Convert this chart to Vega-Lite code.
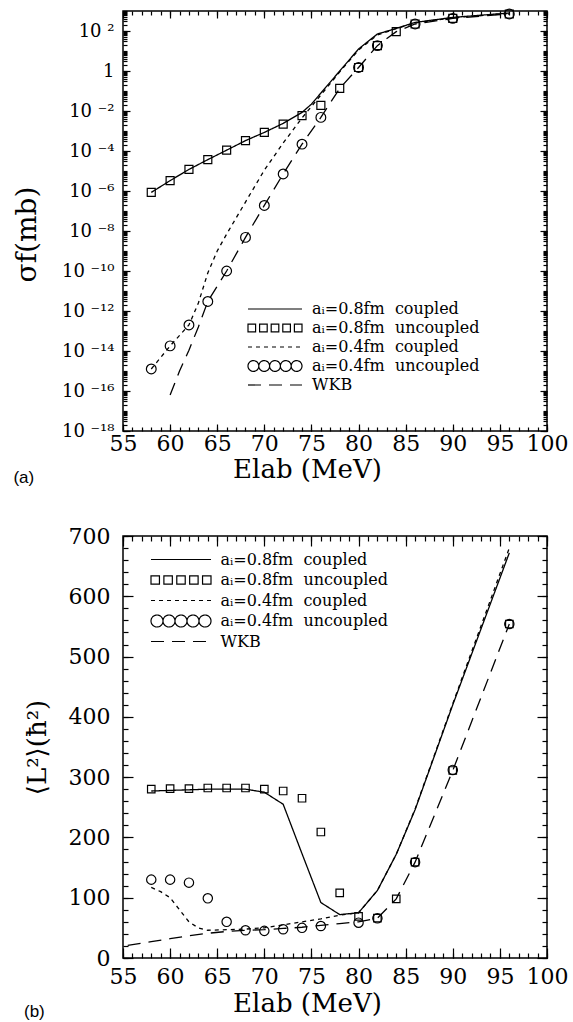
{
  "$schema": "https://vega.github.io/schema/vega-lite/v6.json",
  "padding": {"top": 5, "left": 12, "right": 5, "bottom": 0},
  "background": "white",
  "spacing": 37,
  "config": {
    "view": {"stroke": "black", "strokeWidth": 1.5},
    "axis": {"domain": false, "grid": false, "tickColor": "black", "tickWidth": 1.2, "labelColor": "black", "labelFont": "DejaVu Serif", "titleFont": "DejaVu Serif", "titleFontWeight": "normal", "titleColor": "black", "labelFlush": false, "labelOverlap": false},
    "legend": {"labelFont": "DejaVu Serif", "labelColor": "black", "padding": 0, "labelLimit": 400, "symbolStrokeColor": "black"},
    "title": {"font": "Liberation Sans", "fontSize": 17, "fontWeight": "normal", "color": "black", "orient": "bottom", "anchor": "start", "frame": "bounds"}
  },
  "resolve": {"scale": {"strokeDash": "independent"}, "legend": {"strokeDash": "independent"}},
  "datasets": {
    "t_lines": [
      {"E":58,"v":8.5e-7,"s":"c08"},{"E":60,"v":3.3e-6,"s":"c08"},{"E":62,"v":1.2e-5,"s":"c08"},{"E":64,"v":3.7e-5,"s":"c08"},{"E":66,"v":1.1e-4,"s":"c08"},{"E":68,"v":3.3e-4,"s":"c08"},{"E":70,"v":8.5e-4,"s":"c08"},{"E":72,"v":2.4e-3,"s":"c08"},{"E":74,"v":8.5e-3,"s":"c08"},{"E":75,"v":2.2e-2,"s":"c08"},{"E":76,"v":7.9e-2,"s":"c08"},{"E":77,"v":0.28,"s":"c08"},{"E":78,"v":1.0,"s":"c08"},{"E":80,"v":12.6,"s":"c08"},{"E":82,"v":70.8,"s":"c08"},{"E":84,"v":135,"s":"c08"},{"E":86,"v":269,"s":"c08"},{"E":90,"v":479,"s":"c08"},{"E":96,"v":794,"s":"c08"},
      {"E":58,"v":1.26e-15,"s":"c04"},{"E":60,"v":1.8e-14,"s":"c04"},{"E":62,"v":2.0e-13,"s":"c04"},{"E":63,"v":2.5e-12,"s":"c04"},{"E":64,"v":8e-11,"s":"c04"},{"E":65,"v":1e-9,"s":"c04"},{"E":66,"v":7e-9,"s":"c04"},{"E":68,"v":2.8e-7,"s":"c04"},{"E":70,"v":1.1e-5,"s":"c04"},{"E":72,"v":2.5e-4,"s":"c04"},{"E":74,"v":4.5e-3,"s":"c04"},{"E":76,"v":6.3e-2,"s":"c04"},{"E":78,"v":0.9,"s":"c04"},{"E":80,"v":11.2,"s":"c04"},{"E":82,"v":63,"s":"c04"},{"E":84,"v":132,"s":"c04"},{"E":86,"v":251,"s":"c04"},{"E":90,"v":457,"s":"c04"},{"E":96,"v":759,"s":"c04"}
    ],
    "t_wkb": [
      {"E":60,"v":6.3e-17,"s":"wkb"},{"E":61,"v":1e-15,"s":"wkb"},{"E":62,"v":1.1e-14,"s":"wkb"},{"E":63,"v":1.6e-13,"s":"wkb"},{"E":64,"v":3e-12,"s":"wkb"},{"E":66,"v":1e-10,"s":"wkb"},{"E":68,"v":4.8e-9,"s":"wkb"},{"E":70,"v":1.9e-7,"s":"wkb"},{"E":72,"v":7.1e-6,"s":"wkb"},{"E":74,"v":2.2e-4,"s":"wkb"},{"E":76,"v":4.8e-3,"s":"wkb"},{"E":78,"v":0.135,"s":"wkb"},{"E":80,"v":1.5,"s":"wkb"},{"E":82,"v":18.6,"s":"wkb"},{"E":84,"v":93,"s":"wkb"},{"E":86,"v":224,"s":"wkb"},{"E":90,"v":427,"s":"wkb"},{"E":96,"v":708,"s":"wkb"}
    ],
    "t_sq": [
      {"E":58,"v":8.5e-7},{"E":60,"v":3.3e-6},{"E":62,"v":1.2e-5},{"E":64,"v":3.7e-5},{"E":66,"v":1.1e-4},{"E":68,"v":3.3e-4},{"E":70,"v":8.5e-4},{"E":72,"v":2.2e-3},{"E":74,"v":5.9e-3},{"E":76,"v":1.9e-2},{"E":78,"v":0.135},{"E":80,"v":1.5},{"E":82,"v":18.6},{"E":84,"v":93},{"E":86,"v":224},{"E":90,"v":427},{"E":96,"v":708}
    ],
    "t_ci": [
      {"E":58,"v":1.26e-15},{"E":60,"v":1.8e-14},{"E":62,"v":2.0e-13},{"E":64,"v":3.0e-12},{"E":66,"v":1.0e-10},{"E":68,"v":4.8e-9},{"E":70,"v":1.9e-7},{"E":72,"v":7.1e-6},{"E":74,"v":2.2e-4},{"E":76,"v":4.8e-3},{"E":80,"v":1.5},{"E":82,"v":18.6},{"E":86,"v":224},{"E":90,"v":427},{"E":96,"v":708}
    ],
    "b_lines": [
      {"E":58,"v":277,"s":"c08"},{"E":60,"v":278,"s":"c08"},{"E":62,"v":279,"s":"c08"},{"E":64,"v":280,"s":"c08"},{"E":66,"v":280,"s":"c08"},{"E":68,"v":280,"s":"c08"},{"E":70,"v":275,"s":"c08"},{"E":72,"v":255,"s":"c08"},{"E":74,"v":173,"s":"c08"},{"E":76,"v":92,"s":"c08"},{"E":78,"v":72,"s":"c08"},{"E":80,"v":75,"s":"c08"},{"E":82,"v":112,"s":"c08"},{"E":84,"v":172,"s":"c08"},{"E":86,"v":246,"s":"c08"},{"E":90,"v":420,"s":"c08"},{"E":96,"v":672,"s":"c08"},
      {"E":58,"v":117,"s":"c04"},{"E":59,"v":110,"s":"c04"},{"E":60,"v":100,"s":"c04"},{"E":61,"v":80,"s":"c04"},{"E":62,"v":60,"s":"c04"},{"E":63,"v":50,"s":"c04"},{"E":64,"v":46,"s":"c04"},{"E":66,"v":47,"s":"c04"},{"E":68,"v":48,"s":"c04"},{"E":70,"v":50,"s":"c04"},{"E":72,"v":55,"s":"c04"},{"E":74,"v":60,"s":"c04"},{"E":76,"v":65,"s":"c04"},{"E":78,"v":71,"s":"c04"},{"E":80,"v":75,"s":"c04"},{"E":82,"v":112,"s":"c04"},{"E":84,"v":172,"s":"c04"},{"E":86,"v":247,"s":"c04"},{"E":90,"v":422,"s":"c04"},{"E":96,"v":680,"s":"c04"}
    ],
    "b_wkb": [
      {"E":55.5,"v":21,"s":"wkb"},{"E":58,"v":27,"s":"wkb"},{"E":60,"v":32,"s":"wkb"},{"E":62,"v":37,"s":"wkb"},{"E":64,"v":41,"s":"wkb"},{"E":66,"v":44,"s":"wkb"},{"E":68,"v":46,"s":"wkb"},{"E":70,"v":47,"s":"wkb"},{"E":72,"v":49,"s":"wkb"},{"E":74,"v":51,"s":"wkb"},{"E":76,"v":54,"s":"wkb"},{"E":78,"v":57,"s":"wkb"},{"E":80,"v":60,"s":"wkb"},{"E":82,"v":66,"s":"wkb"},{"E":84,"v":98,"s":"wkb"},{"E":86,"v":159,"s":"wkb"},{"E":90,"v":311,"s":"wkb"},{"E":96,"v":554,"s":"wkb"}
    ],
    "b_sq": [
      {"E":58,"v":280},{"E":60,"v":281},{"E":62,"v":281},{"E":64,"v":282},{"E":66,"v":282},{"E":68,"v":282},{"E":70,"v":280},{"E":72,"v":277},{"E":74,"v":265},{"E":76,"v":209},{"E":78,"v":108},{"E":80,"v":69},{"E":82,"v":66},{"E":84,"v":98},{"E":86,"v":159},{"E":90,"v":311},{"E":96,"v":554}
    ],
    "b_ci": [
      {"E":58,"v":130},{"E":60,"v":130},{"E":62,"v":125},{"E":64,"v":99},{"E":66,"v":60},{"E":68,"v":46},{"E":70,"v":45},{"E":72,"v":47.6},{"E":74,"v":50},{"E":76,"v":53},{"E":80,"v":58.6},{"E":82,"v":65.8},{"E":86,"v":159},{"E":90,"v":312},{"E":96,"v":554}
    ]
  },
  "vconcat": [
    {
      "width": 424,
      "height": 420,
      "title": {"text": "(a)", "offset": -12},
      "resolve": {"axis": {"x": "independent", "y": "independent"}},
      "layer": [
        {
          "data": {"name": "t_lines"},
          "mark": {"type": "line", "color": "black", "strokeWidth": 1.3},
          "encoding": {
            "x": {"field": "E", "type": "quantitative", "scale": {"domain": [55, 100], "nice": false, "zero": false},
                  "axis": {"orient": "bottom", "values": [55,60,65,70,75,80,85,90,95,100], "tickSize": -7, "labelPadding": 9, "labelFontSize": 22, "title": "Elab (MeV)", "titleFontSize": 26, "titlePadding": 2, "titleX": 184}},
            "y": {"field": "v", "type": "quantitative", "scale": {"type": "log", "domain": [1e-18, 1000], "nice": false},
                  "axis": {"orient": "left", "values": [1e-18,1e-16,1e-14,1e-12,1e-10,1e-8,1e-6,1e-4,1e-2,1,100], "tickSize": -7, "labelPadding": 16, "labelFontSize": 18,
                           "labelExpr": "['10 \u207b\u00b9\u2078','10 \u207b\u00b9\u2076','10 \u207b\u00b9\u2074','10 \u207b\u00b9\u00b2','10 \u207b\u00b9\u2070','10 \u207b\u2078','10 \u207b\u2076','10 \u207b\u2074','10 \u207b\u00b2','1\u2002','10 \u00b2'][round((log(datum.value)/LN10+18)/2)]",
                           "title": "\u03c3f(mb)", "titleFontSize": 28, "titlePadding": 20, "titleY": 223}},
            "strokeDash": {"field": "s", "type": "nominal",
                  "scale": {"domain": ["c08","u08","c04","u04","wkb"], "range": [[1,0],[1,0],[4,4],[1,0],[13,8]]},
                  "legend": {"orient": "none", "legendX": 125, "legendY": 290, "title": null, "symbolSize": 196, "symbolOffset": 19, "symbolStrokeWidth": 1.2, "labelFontSize": 16, "labelOffset": 29, "rowPadding": 3,
                             "labelExpr": "datum.value==='c08' ? 'a\u1d62=0.8fm\u00a0\u00a0coupled' : datum.value==='u08' ? 'a\u1d62=0.8fm\u00a0\u00a0uncoupled' : datum.value==='c04' ? 'a\u1d62=0.4fm\u00a0\u00a0coupled' : datum.value==='u04' ? 'a\u1d62=0.4fm\u00a0\u00a0uncoupled' : 'WKB'",
                             "encode": {"symbols": {"update": {
                               "shape": {"signal": "datum.value==='u08' ? 'M-3.857,-0.543h1.086v1.086h-1.086zM-2.2,-0.543h1.086v1.086h-1.086zM-0.543,-0.543h1.086v1.086h-1.086zM1.114,-0.543h1.086v1.086h-1.086zM2.771,-0.543h1.086v1.086h-1.086z' : datum.value==='u04' ? 'M-3.857,0a0.771,0.771 0 1,0 1.542,0a0.771,0.771 0 1,0 -1.542,0M-2.314,0a0.771,0.771 0 1,0 1.542,0a0.771,0.771 0 1,0 -1.542,0M-0.771,0a0.771,0.771 0 1,0 1.542,0a0.771,0.771 0 1,0 -1.542,0M0.772,0a0.771,0.771 0 1,0 1.542,0a0.771,0.771 0 1,0 -1.542,0M2.315,0a0.771,0.771 0 1,0 1.542,0a0.771,0.771 0 1,0 -1.542,0' : 'M-3.857,0L3.857,0'"},
                               "fill": {"value": "transparent"}, "stroke": {"value": "black"}, "strokeWidth": {"value": 1.2}}}}}}
          }
        },
        {
          "data": {"name": "t_wkb"},
          "mark": {"type": "line", "color": "black", "strokeWidth": 1.3},
          "encoding": {
            "x": {"field": "E", "type": "quantitative", "axis": {"orient": "bottom", "tickCount": 45, "tickSize": -4, "labels": false, "title": null}},
            "y": {"field": "v", "type": "quantitative", "axis": {"orient": "left", "tickCount": 200, "tickSize": -4, "labels": false, "title": null}},
            "strokeDash": {"field": "s", "type": "nominal"}
          }
        },
        {
          "data": {"name": "t_sq"},
          "mark": {"type": "point", "shape": "square", "filled": false, "color": "black", "size": 64, "strokeWidth": 1.2, "opacity": 1},
          "encoding": {
            "x": {"field": "E", "type": "quantitative", "axis": {"orient": "top", "values": [55,60,65,70,75,80,85,90,95,100], "tickSize": -7, "labels": false, "title": null}},
            "y": {"field": "v", "type": "quantitative", "axis": {"orient": "right", "values": [1e-18,1e-16,1e-14,1e-12,1e-10,1e-8,1e-6,1e-4,1e-2,1,100], "tickSize": -7, "labels": false, "title": null}}
          }
        },
        {
          "data": {"name": "t_ci"},
          "mark": {"type": "point", "shape": "circle", "filled": false, "color": "black", "size": 95, "strokeWidth": 1.2, "opacity": 1},
          "encoding": {
            "x": {"field": "E", "type": "quantitative", "axis": {"orient": "top", "tickCount": 45, "tickSize": -4, "labels": false, "title": null}},
            "y": {"field": "v", "type": "quantitative", "axis": {"orient": "right", "tickCount": 200, "tickSize": -4, "labels": false, "title": null}}
          }
        }
      ]
    },
    {
      "width": 424,
      "height": 422,
      "title": {"text": "(b)", "offset": -12},
      "resolve": {"axis": {"x": "independent", "y": "independent"}},
      "layer": [
        {
          "data": {"name": "b_lines"},
          "mark": {"type": "line", "color": "black", "strokeWidth": 1.3},
          "encoding": {
            "x": {"field": "E", "type": "quantitative", "scale": {"domain": [55, 100], "nice": false, "zero": false},
                  "axis": {"orient": "bottom", "values": [55,60,65,70,75,80,85,90,95,100], "tickSize": -10, "labelPadding": 18, "labelFontSize": 22, "title": "Elab (MeV)", "titleFontSize": 26, "titlePadding": 3, "titleX": 184}},
            "y": {"field": "v", "type": "quantitative", "scale": {"domain": [0, 700], "nice": false},
                  "axis": {"orient": "left", "values": [0,100,200,300,400,500,600,700], "tickSize": -10, "labelPadding": 23, "labelFontSize": 22,
                           "title": "\u27e8L\u00b2\u27e9(\u0127\u00b2)", "titleFontSize": 26, "titlePadding": 18}},
            "strokeDash": {"field": "s", "type": "nominal",
                  "scale": {"domain": ["c08","u08","c04","u04","wkb"], "range": [[1,0],[1,0],[4,4],[1,0],[13,8]]},
                  "legend": {"orient": "none", "legendX": 28, "legendY": 15, "title": null, "symbolSize": 242, "symbolOffset": 21.5, "symbolStrokeWidth": 1.2, "labelFontSize": 16, "labelOffset": 31, "rowPadding": 3.5,
                             "labelExpr": "datum.value==='c08' ? 'a\u1d62=0.8fm\u00a0\u00a0coupled' : datum.value==='u08' ? 'a\u1d62=0.8fm\u00a0\u00a0uncoupled' : datum.value==='c04' ? 'a\u1d62=0.4fm\u00a0\u00a0coupled' : datum.value==='u04' ? 'a\u1d62=0.4fm\u00a0\u00a0uncoupled' : 'WKB'",
                             "encode": {"symbols": {"update": {
                               "shape": {"signal": "datum.value==='u08' ? 'M-3.857,-0.543h1.086v1.086h-1.086zM-2.2,-0.543h1.086v1.086h-1.086zM-0.543,-0.543h1.086v1.086h-1.086zM1.114,-0.543h1.086v1.086h-1.086zM2.771,-0.543h1.086v1.086h-1.086z' : datum.value==='u04' ? 'M-3.857,0a0.771,0.771 0 1,0 1.542,0a0.771,0.771 0 1,0 -1.542,0M-2.314,0a0.771,0.771 0 1,0 1.542,0a0.771,0.771 0 1,0 -1.542,0M-0.771,0a0.771,0.771 0 1,0 1.542,0a0.771,0.771 0 1,0 -1.542,0M0.772,0a0.771,0.771 0 1,0 1.542,0a0.771,0.771 0 1,0 -1.542,0M2.315,0a0.771,0.771 0 1,0 1.542,0a0.771,0.771 0 1,0 -1.542,0' : 'M-3.857,0L3.857,0'"},
                               "fill": {"value": "transparent"}, "stroke": {"value": "black"}, "strokeWidth": {"value": 1.2}}}}}}
          }
        },
        {
          "data": {"name": "b_wkb"},
          "mark": {"type": "line", "color": "black", "strokeWidth": 1.3},
          "encoding": {
            "x": {"field": "E", "type": "quantitative", "axis": {"orient": "bottom", "tickCount": 45, "tickSize": -5, "labels": false, "title": null}},
            "y": {"field": "v", "type": "quantitative", "axis": {"orient": "left", "tickCount": 35, "tickSize": -5, "labels": false, "title": null}},
            "strokeDash": {"field": "s", "type": "nominal"}
          }
        },
        {
          "data": {"name": "b_sq"},
          "mark": {"type": "point", "shape": "square", "filled": false, "color": "black", "size": 56, "strokeWidth": 1.2, "opacity": 1},
          "encoding": {
            "x": {"field": "E", "type": "quantitative", "axis": {"orient": "top", "values": [55,60,65,70,75,80,85,90,95,100], "tickSize": -10, "labels": false, "title": null}},
            "y": {"field": "v", "type": "quantitative", "axis": {"orient": "right", "values": [0,100,200,300,400,500,600,700], "tickSize": -10, "labels": false, "title": null}}
          }
        },
        {
          "data": {"name": "b_ci"},
          "mark": {"type": "point", "shape": "circle", "filled": false, "color": "black", "size": 87, "strokeWidth": 1.2, "opacity": 1},
          "encoding": {
            "x": {"field": "E", "type": "quantitative", "axis": {"orient": "top", "tickCount": 45, "tickSize": -5, "labels": false, "title": null}},
            "y": {"field": "v", "type": "quantitative", "axis": {"orient": "right", "tickCount": 35, "tickSize": -5, "labels": false, "title": null}}
          }
        }
      ]
    }
  ]
}
